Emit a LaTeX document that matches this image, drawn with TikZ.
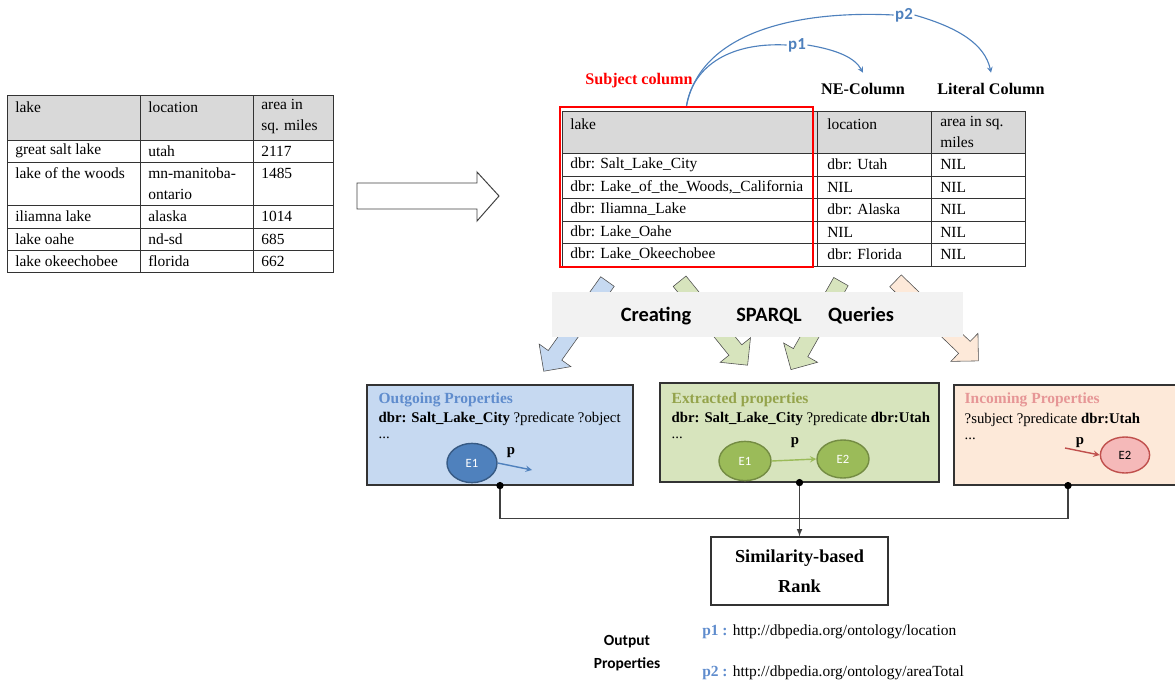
\documentclass[tikz,border=0pt]{standalone}
\usepackage{fontspec}
\setmainfont{Liberation Serif}
\newfontfamily\calibri{Carlito}
\usetikzlibrary{calc,arrows,positioning,shapes.arrows,shapes.geometric}
\definecolor{hdrgrey}{gray}{0.85}
\definecolor{bandgrey}{gray}{0.95}
\definecolor{outblue}{RGB}{198,217,241}
\definecolor{extgreen}{RGB}{215,228,189}
\definecolor{incpeach}{RGB}{253,233,217}
\definecolor{linkblue}{RGB}{79,129,189}
\definecolor{titleblue}{RGB}{95,140,205}
\definecolor{titlegreen}{RGB}{148,163,75}
\definecolor{titlepink}{RGB}{230,150,150}
\definecolor{egreen}{RGB}{155,187,89}
\definecolor{epink}{RGB}{245,185,185}
\definecolor{ered}{RGB}{192,80,77}

\begin{document}
\begin{tikzpicture}[x=0.025cm,y=-0.025cm]

\tikzset{tabline/.style={draw=black!80,line width=0.7pt},
cell/.style={anchor=west,inner sep=0pt,font=\fontsize{11}{15}\selectfont},
colhead/.style={font=\fontsize{11.5}{13}\selectfont\bfseries},
fatarrow/.style={single arrow,draw=black!70,inner sep=0.2cm,single arrow head extend=0.28cm,outer sep=0pt},
propbox/.style={draw=black!80,line width=0.8pt,inner sep=0pt,minimum height=2.5cm},
boxtext/.style={anchor=west,inner sep=0pt,font=\fontsize{10.5}{12}\selectfont},
ent/.style={ellipse,line width=1pt,inner sep=0pt,minimum width=1.28cm,minimum height=0.98cm,font=\calibri\fontsize{9}{10}\selectfont},
plab/.style={inner sep=1pt,font=\fontsize{10.5}{12}\selectfont\bfseries},
qword/.style={font=\calibri\fontsize{14.5}{16}\selectfont\bfseries},
link/.style={linkblue,line width=0.8pt}}

\useasboundingbox (0,0) rectangle (1175,684);

% Input table
\fill[hdrgrey] (7,95) rectangle (333,140);
\draw[tabline] (7,95) rectangle (333,272);
\foreach \y in {140,162,205,228,250} \draw[tabline] (7,\y) -- (333,\y);
\foreach \x in {140,253} \draw[tabline] (\x,95) -- (\x,272);
\node[cell] (lh1) at (15,107) {lake};
\node[cell] (lh2) at (148,107) {location};
\node[cell,align=left,anchor=north west] (lh3) at (261,99) {area in\\sq. miles};
\foreach \y/\a/\b/\c [count=\i] in {151/great salt lake/utah/2117,173/lake of the woods/mn-manitoba-/1485,
  216.5/iliamna lake/alaska/1014,239/lake oahe/nd-sd/685,261/lake okeechobee/florida/662}{
  \node[cell] (la\i) at (15,\y) {\a};
  \node[cell] (lb\i) at (148,\y) {\b};
  \node[cell] (lc\i) at (261,\y) {\c};
}
\node[cell] (lb2x) at (148,194) {ontario};

% Big arrow
\draw[black!75,line width=0.7pt] (357,183) -- (477,183) -- (477,172) -- (499,196) -- (477,221) -- (477,209) -- (357,209) -- cycle;

% Annotated table
\fill[hdrgrey] (562,111) rectangle (1025,153);
\draw[tabline] (562,111) rectangle (1025,266);
\foreach \y in {153,176,198,221,243} \draw[tabline] (562,\y) -- (1025,\y);
\foreach \x in {817,931} \draw[tabline] (\x,111) -- (\x,266);
\node[cell] (rh1) at (570,124) {lake};
\node[cell] (rh2) at (827,124) {location};
\node[cell,align=left,anchor=north west] (rh3) at (940,116) {area in sq.\\miles};
\foreach \y/\a/\b [count=\i] in {164.5/{dbr: Salt\_Lake\_City}/{dbr: Utah},187/{dbr: Lake\_of\_the\_Woods,\_California}/NIL,
  209.5/{dbr: Iliamna\_Lake}/{dbr: Alaska},232/{dbr: Lake\_Oahe}/NIL,254.5/{dbr: Lake\_Okeechobee}/{dbr: Florida}}{
  \node[cell] (ra\i) at (570,\y) {\a};
  \node[cell] (rb\i) at (827,\y) {\b};
  \node[cell] (rc\i) at (940,\y) {NIL};
}
\node[draw=red,line width=1.6pt,inner sep=0pt,minimum width=6.325cm,minimum height=4cm] (subj) at (686.5,187) {};

% Column labels
\node[colhead,text=red] (subjlab) at (639,81) {Subject column};
\node[colhead] (necol) at (863,89) {NE-Column};
\node[colhead] (litcol) at (991,89) {Literal Column};

% Property links
\node[plab,text=linkblue,font=\calibri\fontsize{12}{14}\selectfont\bfseries] (p1) at (797,45) {p1};
\node[plab,text=linkblue,font=\calibri\fontsize{12}{14}\selectfont\bfseries] (p2) at (904,15) {p2};
\draw[link] (subj.north) .. controls (692,70) and (725,42) .. (p1.west);
\draw[link,-stealth] (p1.east) .. controls (838,50) and (855,58) .. ([yshift=4pt]necol.north);
\draw[link] (subj.north) .. controls (700,35) and (790,10) .. (p2.west);
\draw[link,-stealth] (p2.east) .. controls (960,28) and (985,45) .. ([yshift=4pt]litcol.north);

% Query arrows
\node[fatarrow,fill=outblue,rotate=234.6,minimum height=2.75cm] (qa1) at (578,323) {};
\node[fatarrow,fill=extgreen,rotate=-51,minimum height=2.7cm] (qa2) at (711,320) {};
\node[fatarrow,fill=extgreen,rotate=240.4,minimum height=2.53cm] (qa3) at (818,322) {};
\node[fatarrow,fill=incpeach,rotate=-44,minimum height=2.88cm] (qa4) at (934,318) {};
\node[fill=bandgrey,inner sep=0pt,minimum width=10.275cm,minimum height=1.125cm] (band) at (757.5,314.5) {};
\node[qword] (q1) at (656,316) {Creating};
\node[qword] (q2) at (769,316) {SPARQL};
\node[qword] (q3) at (861,316) {Queries};

% Property boxes
\node[propbox,fill=outblue,minimum width=6.65cm] (out) at (500,435) {};
\node[propbox,fill=extgreen,minimum width=6.975cm,minimum height=2.475cm] (ext) at (799.5,432.5) {};
\node[propbox,fill=incpeach,minimum width=5.7cm] (inc) at (1068,435) {};

\node[boxtext,font=\fontsize{11}{13}\selectfont\bfseries,text=titleblue] (ot) at ($(out.north west)+(12,15)$) {Outgoing Properties};
\node[boxtext] (oq) at ($(out.north west)+(12,35)$) {\textbf{dbr: Salt\_Lake\_City} ?predicate ?object};
\node[boxtext] (od) at ($(out.north west)+(12,53)$) {...};
\node[ent,fill=linkblue,draw=linkblue!70!black,text=white,minimum width=1.25cm] (oe1) at (472,463) {E1};
\coordinate (oend) at (532,470);
\draw[-stealth,linkblue,line width=1pt] (oe1.east) -- (oend);
\node[plab] (op) at (511,453) {p};

\node[boxtext,font=\fontsize{11}{13}\selectfont\bfseries,text=titlegreen] (et) at ($(ext.north west)+(12,17)$) {Extracted properties};
\node[boxtext] (eq) at ($(ext.north west)+(12,37)$) {\textbf{dbr: Salt\_Lake\_City} ?predicate \textbf{dbr:Utah}};
\node[boxtext] (ed) at ($(ext.north west)+(12,55)$) {...};
\node[ent,fill=egreen,draw=egreen!75!black,text=white,minimum width=1.3cm] (ee1) at (745,461) {E1};
\node[ent,fill=egreen,draw=egreen!75!black,text=white,minimum width=1.3cm,minimum height=0.95cm] (ee2) at (843,459) {E2};
\draw[-stealth,egreen,line width=1pt] (ee1.east) -- (ee2.west);
\node[plab] (ep) at (795,443) {p};

\node[boxtext,font=\fontsize{11}{13}\selectfont\bfseries,text=titlepink] (it) at ($(inc.north west)+(11,15)$) {Incoming Properties};
\node[boxtext] (iq) at ($(inc.north west)+(11,36)$) {?subject ?predicate \textbf{dbr:Utah}};
\node[boxtext] (id) at ($(inc.north west)+(11,54)$) {...};
\node[ent,fill=epink,draw=ered,minimum width=1.23cm,minimum height=0.9cm] (ie2) at (1125,455) {E2};
\coordinate (istart) at (1065,448);
\draw[-stealth,ered,line width=1pt] (istart) -- (ie2.west);
\node[plab] (ip) at (1080,443) {p};

% Ranking
\node[draw=black!80,line width=0.8pt,minimum width=4.425cm,minimum height=1.7cm,align=center,
  font=\fontsize{13}{21}\selectfont\bfseries] (rank) at (799.5,571) {Similarity-based\\Rank};
\draw[black!75,line width=0.8pt] (out.south) -- ++(0,33) -| (inc.south);
\draw[black!75,line width=0.8pt,-latex] (ext.south) -- (rank.north);
\foreach \n in {out,ext,inc} \fill (\n.south) circle (2.6pt);

% Output
\node[align=center,font=\calibri\fontsize{11}{16}\selectfont\bfseries] (outlab) at (627,653) {Output\\Properties};
\node[cell] (o1) at (702,632) {\textcolor{titleblue}{\textbf{p1 :}} http://dbpedia.org/ontology/location};
\node[cell] (o2) at (702,673) {\textcolor{titleblue}{\textbf{p2 :}} http://dbpedia.org/ontology/areaTotal};

\end{tikzpicture}
\end{document}
